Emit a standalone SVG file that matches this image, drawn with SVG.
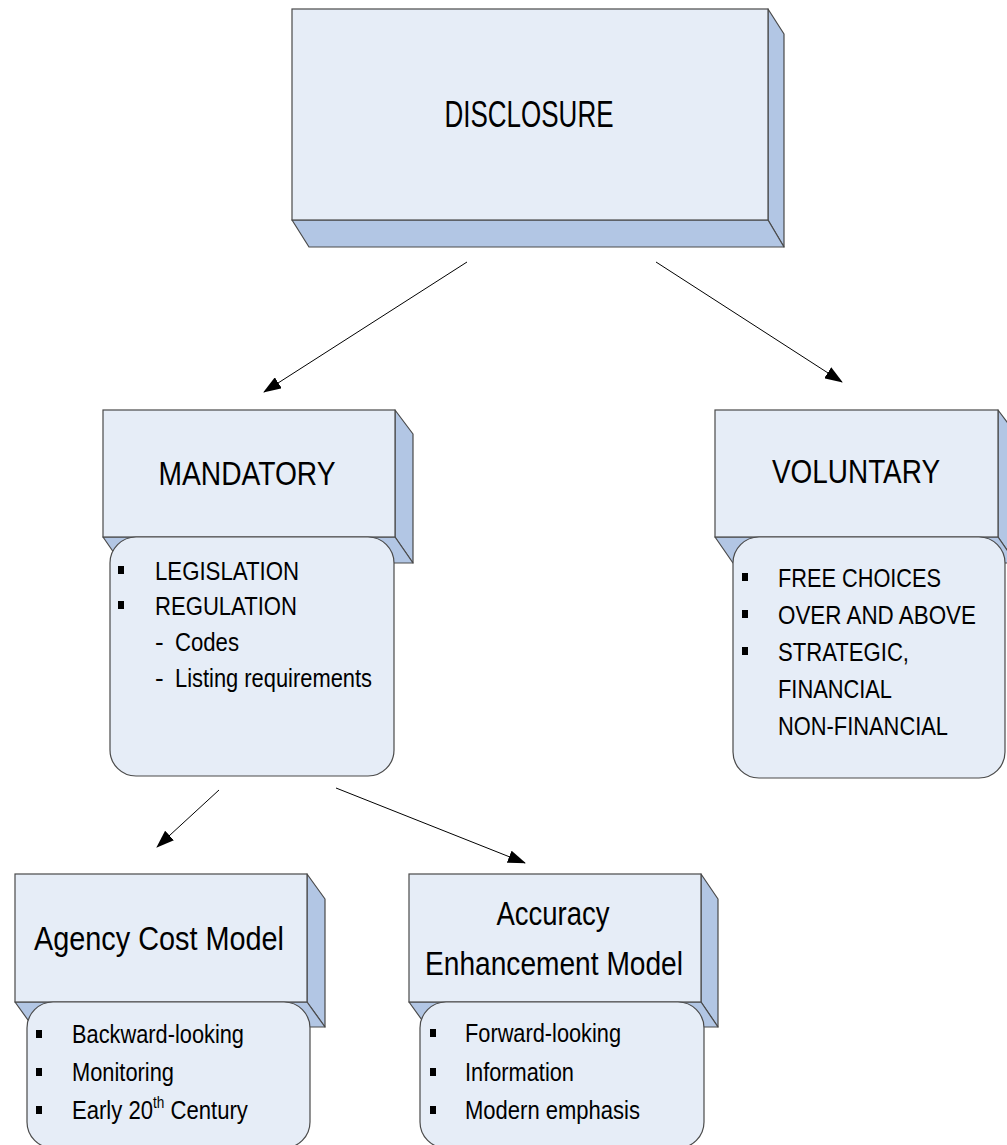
<svg xmlns="http://www.w3.org/2000/svg" width="1007" height="1145" viewBox="0 0 1007 1145">
<defs>
<style>
.front{fill:#E6EDF7;stroke:#4a4a4a;stroke-width:1.2}
.side{fill:#B2C6E4;stroke:#4a4a4a;stroke-width:1.2;stroke-linejoin:round}
.call{fill:#E6EDF7;stroke:#4a4a4a;stroke-width:1.2}
.t{font-family:"Liberation Sans",Arial,sans-serif;fill:#000}
.title{font-size:33px;text-anchor:middle}
.item{font-size:26px}
.bul{fill:#000}
.conn{stroke:#000;stroke-width:1;fill:none;marker-end:url(#ah)}
</style>
<marker id="ah" viewBox="0 0 18 13" refX="17" refY="6.5" markerWidth="18" markerHeight="13" markerUnits="userSpaceOnUse" orient="auto">
<path d="M0,0 L18,6.5 L0,13 Z" fill="#000"/>
</marker>
</defs>
<rect width="1007" height="1145" fill="#fff"/>

<g id="disclosure">
<polygon class="side" points="768,9 784,34 784,247 768,220"/>
<polygon class="side" points="292,220 768,220 784,247 309,247"/>
<rect class="front" x="292" y="9" width="476" height="211"/>
<text class="t" x="529" y="127" font-size="37" text-anchor="middle" textLength="169" lengthAdjust="spacingAndGlyphs">DISCLOSURE</text>
</g>

<g id="mandatory">
<polygon class="side" points="395,410 413,434 413,563 395,537"/>
<polygon class="side" points="103,537 395,537 413,563 121,563"/>
<rect class="front" x="103" y="410" width="292" height="127"/>
<text class="t title" x="247" y="485" textLength="177" lengthAdjust="spacingAndGlyphs">MANDATORY</text>
<rect class="call" x="110" y="537" width="284" height="239" rx="26" ry="26"/>
<rect class="bul" x="118" y="566" width="6" height="8"/>
<text class="t item" x="155" y="580" textLength="144" lengthAdjust="spacingAndGlyphs">LEGISLATION</text>
<rect class="bul" x="118" y="601" width="6" height="8"/>
<text class="t item" x="155" y="615" textLength="142" lengthAdjust="spacingAndGlyphs">REGULATION</text>
<text class="t item" x="155" y="651">-</text>
<text class="t item" x="175" y="651" textLength="64" lengthAdjust="spacingAndGlyphs">Codes</text>
<text class="t item" x="155" y="687">-</text>
<text class="t item" x="175" y="687" textLength="197" lengthAdjust="spacingAndGlyphs">Listing requirements</text>
</g>

<g id="voluntary">
<polygon class="side" points="998,410 1016,434 1016,563 998,537"/>
<polygon class="side" points="715,537 998,537 1016,563 733,563"/>
<rect class="front" x="715" y="410" width="283" height="127"/>
<text class="t title" x="856" y="483" textLength="168" lengthAdjust="spacingAndGlyphs">VOLUNTARY</text>
<rect class="call" x="733" y="537" width="272" height="241" rx="26" ry="26"/>
<rect class="bul" x="742" y="573" width="6" height="8"/>
<text class="t item" x="778" y="587" textLength="163" lengthAdjust="spacingAndGlyphs">FREE CHOICES</text>
<rect class="bul" x="742" y="610" width="6" height="8"/>
<text class="t item" x="778" y="624" textLength="198" lengthAdjust="spacingAndGlyphs">OVER AND ABOVE</text>
<rect class="bul" x="742" y="647" width="6" height="8"/>
<text class="t item" x="778" y="661" textLength="131" lengthAdjust="spacingAndGlyphs">STRATEGIC,</text>
<text class="t item" x="778" y="698" textLength="114" lengthAdjust="spacingAndGlyphs">FINANCIAL</text>
<text class="t item" x="778" y="735" textLength="170" lengthAdjust="spacingAndGlyphs">NON-FINANCIAL</text>
</g>

<g id="agency">
<polygon class="side" points="307,874 325,899 325,1027 307,1002"/>
<polygon class="side" points="15,1002 307,1002 325,1027 33,1027"/>
<rect class="front" x="15" y="874" width="292" height="128"/>
<text class="t title" x="159" y="950" font-size="34" textLength="250" lengthAdjust="spacingAndGlyphs">Agency Cost Model</text>
<rect class="call" x="27" y="1002" width="283" height="146" rx="26" ry="26"/>
<rect class="bul" x="36" y="1030" width="6" height="8"/>
<text class="t item" x="72" y="1043" textLength="172" lengthAdjust="spacingAndGlyphs">Backward-looking</text>
<rect class="bul" x="36" y="1068" width="6" height="8"/>
<text class="t item" x="72" y="1081" textLength="102" lengthAdjust="spacingAndGlyphs">Monitoring</text>
<rect class="bul" x="36" y="1106" width="6" height="8"/>
<text class="t item" transform="translate(72,1119) scale(0.85,1)" x="0" y="0">Early 20<tspan font-size="16" dy="-11">th</tspan><tspan dy="11"> Century</tspan></text>
</g>

<g id="accuracy">
<polygon class="side" points="701,874 718,899 718,1027 701,1002"/>
<polygon class="side" points="409,1002 701,1002 718,1027 427,1027"/>
<rect class="front" x="409" y="874" width="292" height="128"/>
<text class="t title" x="553" y="925" font-size="34" textLength="113" lengthAdjust="spacingAndGlyphs">Accuracy</text>
<text class="t title" x="554" y="975" font-size="34" textLength="258" lengthAdjust="spacingAndGlyphs">Enhancement Model</text>
<rect class="call" x="420" y="1002" width="284" height="146" rx="26" ry="26"/>
<rect class="bul" x="430" y="1029" width="6" height="8"/>
<text class="t item" x="465" y="1042" textLength="156" lengthAdjust="spacingAndGlyphs">Forward-looking</text>
<rect class="bul" x="430" y="1068" width="6" height="8"/>
<text class="t item" x="465" y="1081" textLength="109" lengthAdjust="spacingAndGlyphs">Information</text>
<rect class="bul" x="430" y="1106" width="6" height="8"/>
<text class="t item" x="465" y="1119" textLength="175" lengthAdjust="spacingAndGlyphs">Modern emphasis</text>
</g>

<g id="connectors">
<line class="conn" x1="467" y1="262" x2="264" y2="392"/>
<line class="conn" x1="656" y1="262" x2="842" y2="382"/>
<line class="conn" x1="219" y1="790" x2="157" y2="847"/>
<line class="conn" x1="336" y1="788" x2="525" y2="863"/>
</g>
</svg>
